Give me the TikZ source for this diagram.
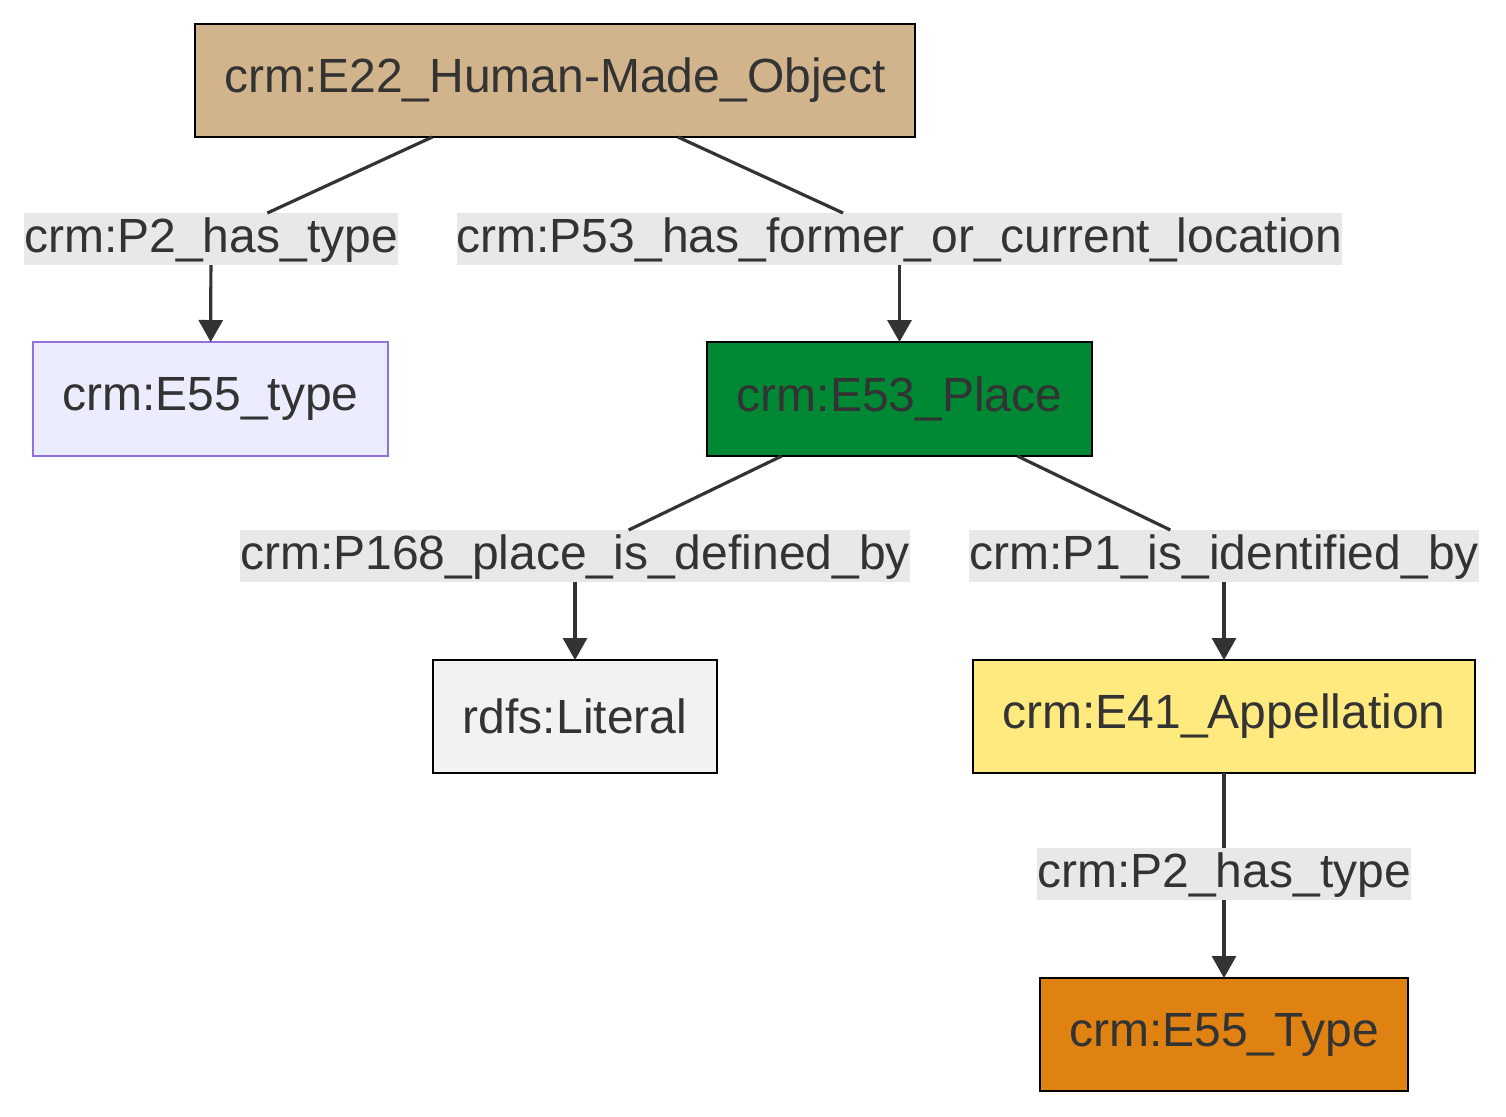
\documentclass[tikz,border=0pt]{standalone}
\usepackage{fontspec}
\setmainfont{Liberation Sans}
\usetikzlibrary{arrows.meta}
\definecolor{txt}{HTML}{333333}
\definecolor{tanc}{HTML}{D2B48C}
\definecolor{lav}{HTML}{ECECFF}
\definecolor{lavb}{HTML}{9370DB}
\definecolor{grn}{RGB}{0,136,52}
\definecolor{lit}{HTML}{F2F2F2}
\definecolor{yel}{HTML}{FFEA80}
\definecolor{org}{RGB}{224,130,18}
\definecolor{lblbg}{HTML}{E8E8E8}
\tikzset{
  box/.style={draw=black, line width=1pt, inner sep=0pt, outer sep=0pt, text=txt,
    minimum height=56.5pt, font=\fontsize{24}{28}\selectfont},
  elabel/.style={fill=lblbg, inner sep=0pt, outer sep=0pt, text=txt,
    text height=19.5pt, text depth=6.5pt, font=\fontsize{24}{28}\selectfont},
  conn/.style={draw=txt, line width=1.6pt},
  arr/.style={conn, -{Triangle[length=11pt,width=12pt]}}
}
\begin{document}
\begin{tikzpicture}[x=0.5pt,y=-0.5pt]
\useasboundingbox (0,0) rectangle (1506,1116);
\node[box, fill=tanc, minimum width=360pt] (e22) at (555,80.5) {crm:E22\_Human-Made\_Object};
\node[box, fill=lav, draw=lavb, minimum width=177.5pt, minimum height=57pt] (e55a) at (210.5,399) {crm:E55\_type};
\node[box, fill=grn, minimum width=192.5pt, minimum height=57pt] (e53) at (899.5,399) {crm:E53\_Place};
\node[box, fill=lit, minimum width=142pt] (lit) at (575,716.5) {rdfs:Literal};
\node[box, fill=yel, minimum width=251pt] (e41) at (1224,716.5) {crm:E41\_Appellation};
\node[box, fill=org, minimum width=184pt] (e55b) at (1224,1034.5) {crm:E55\_Type};

\node[elabel] (l1) at (211,239) {crm:P2\_has\_type};
\node[elabel] (l2) at (899.5,239) {crm:P53\_has\_former\_or\_current\_location};
\node[elabel] (l3) at (575,556) {crm:P168\_place\_is\_defined\_by};
\node[elabel] (l4) at (1224,556) {crm:P1\_is\_identified\_by};
\node[elabel] (l5) at (1224,874) {crm:P2\_has\_type};

\draw[conn] (e22) -- (l1);
\draw[arr] (l1) -- (e55a);
\draw[conn] (e22) -- (l2);
\draw[arr] (l2) -- (e53);
\draw[conn] (e53) -- (l3);
\draw[arr] (l3) -- (lit);
\draw[conn] (e53) -- (l4);
\draw[arr] (l4) -- (e41);
\draw[conn] (e41) -- (l5);
\draw[arr] (l5) -- (e55b);
\end{tikzpicture}
\end{document}
